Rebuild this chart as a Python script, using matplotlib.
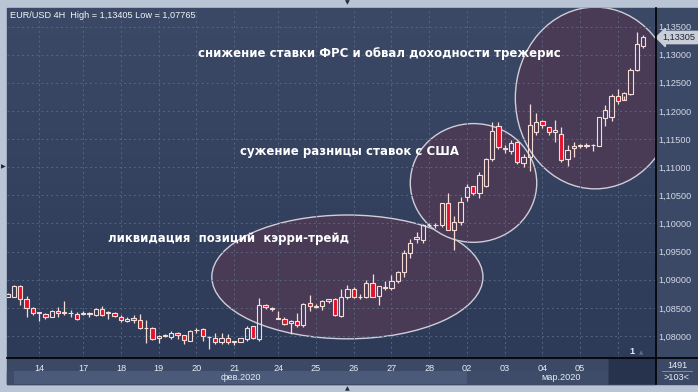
import numpy as np
import matplotlib.pyplot as plt
from matplotlib.patches import Rectangle, Ellipse
from matplotlib.lines import Line2D
from matplotlib.colors import LinearSegmentedColormap

W, H = 698, 392

# EUR/USD 4H свечи
opens = [1.0870, 1.0870, 1.0889, 1.0865, 1.0849, 1.0841, 1.0839, 1.0834, 1.0844, 1.0841,
         1.0840, 1.0839, 1.0839, 1.0840, 1.0838, 1.0848, 1.0841, 1.0840, 1.0833, 1.0827,
         1.0832, 1.0828, 1.0815, 1.0815, 1.0796, 1.0800, 1.0798, 1.0806, 1.0801, 1.0792,
         1.0810, 1.0812, 1.0799, 1.0797, 1.0789, 1.0797, 1.0791, 1.0790, 1.0794, 1.0817,
         1.0794, 1.0855, 1.0849, 1.0831, 1.0831, 1.0823, 1.0826, 1.0820, 1.0858, 1.0852,
         1.0853, 1.0862, 1.0865, 1.0836, 1.0869, 1.0883, 1.0870, 1.0869, 1.0894, 1.0871,
         1.0887, 1.0885, 1.0897, 1.0913, 1.0948, 1.0972, 1.0970, 1.0997, 1.0998, 1.0997,
         1.1037, 1.0989, 1.1002, 1.1047, 1.1066, 1.1054, 1.1067, 1.1114, 1.1173, 1.1135,
         1.1129, 1.1145, 1.1107, 1.1118, 1.1163, 1.1182, 1.1171, 1.1162, 1.1159, 1.1114,
         1.1134, 1.1138, 1.1138, 1.1140, 1.1138, 1.1188, 1.1189, 1.1227, 1.1220, 1.1230,
         1.1272, 1.1316]
highs = [1.0877, 1.0890, 1.0891, 1.0871, 1.0851, 1.0843, 1.0840, 1.0846, 1.0851, 1.0862,
         1.0847, 1.0842, 1.0844, 1.0842, 1.0849, 1.0853, 1.0844, 1.0842, 1.0837, 1.0834,
         1.0837, 1.0839, 1.0828, 1.0816, 1.0801, 1.0803, 1.0809, 1.0808, 1.0801, 1.0810,
         1.0814, 1.0814, 1.0800, 1.0806, 1.0806, 1.0804, 1.0792, 1.0797, 1.0817, 1.0818,
         1.0867, 1.0857, 1.0851, 1.0845, 1.0833, 1.0828, 1.0841, 1.0859, 1.0873, 1.0856,
         1.0864, 1.0866, 1.0868, 1.0883, 1.0891, 1.0887, 1.0875, 1.0899, 1.0910, 1.0889,
         1.0897, 1.0908, 1.0915, 1.0952, 1.0972, 1.0985, 1.0999, 1.1001, 1.1001, 1.1037,
         1.1054, 1.1013, 1.1047, 1.1070, 1.1067, 1.1092, 1.1117, 1.1180, 1.1180, 1.1140,
         1.1149, 1.1147, 1.1124, 1.1212, 1.1196, 1.1184, 1.1172, 1.1184, 1.1172, 1.1139,
         1.1145, 1.1142, 1.1143, 1.1141, 1.1190, 1.1210, 1.1230, 1.1239, 1.1233, 1.1276,
         1.13405, 1.1335]
lows = [1.0869, 1.0869, 1.0855, 1.0834, 1.0838, 1.0827, 1.0831, 1.0833, 1.0833, 1.0838,
        1.0833, 1.0828, 1.0838, 1.0834, 1.0836, 1.0836, 1.0831, 1.0833, 1.0825, 1.0824,
        1.0823, 1.0813, 1.0787, 1.0793, 1.0788, 1.0798, 1.0795, 1.0794, 1.0786, 1.0791,
        1.0806, 1.0792, 1.07765, 1.0786, 1.0785, 1.0786, 1.0784, 1.0789, 1.0791, 1.0795,
        1.0792, 1.0848, 1.0845, 1.0830, 1.0819, 1.0804, 1.0816, 1.0816, 1.0844, 1.0849,
        1.0847, 1.0858, 1.0836, 1.0833, 1.0866, 1.0868, 1.0865, 1.0868, 1.0869, 1.0855,
        1.0882, 1.0882, 1.0895, 1.0905, 1.0938, 1.0966, 1.0966, 1.0993, 1.0992, 1.0993,
        1.0989, 1.0953, 1.0998, 1.1040, 1.1050, 1.1045, 1.1064, 1.1111, 1.1132, 1.1126,
        1.1124, 1.1105, 1.1100, 1.1094, 1.1158, 1.1170, 1.1157, 1.1145, 1.1110, 1.1102,
        1.1119, 1.1135, 1.1135, 1.1129, 1.1138, 1.1174, 1.1182, 1.1213, 1.1227, 1.1228,
        1.1271, 1.1312]
closes = [1.0875, 1.0888, 1.0865, 1.0849, 1.0841, 1.0842, 1.0833, 1.0844, 1.0841, 1.0843,
          1.0841, 1.0831, 1.0841, 1.0839, 1.0848, 1.0837, 1.0842, 1.0836, 1.0828, 1.0831,
          1.0828, 1.0815, 1.0814, 1.0795, 1.0800, 1.0801, 1.0806, 1.0802, 1.0793, 1.0809,
          1.0811, 1.0800, 1.0798, 1.0789, 1.0797, 1.0790, 1.0790, 1.0796, 1.0815, 1.0796,
          1.0855, 1.0851, 1.0848, 1.0832, 1.0821, 1.0827, 1.0820, 1.0857, 1.0853, 1.0853,
          1.0862, 1.0865, 1.0837, 1.0869, 1.0883, 1.0870, 1.0869, 1.0894, 1.0870, 1.0889,
          1.0886, 1.0898, 1.0914, 1.0948, 1.0966, 1.0976, 1.0998, 1.0998, 1.0997, 1.1036,
          1.0989, 1.1002, 1.1038, 1.1064, 1.1054, 1.1086, 1.1114, 1.1165, 1.1136, 1.1132,
          1.1143, 1.1110, 1.1118, 1.1175, 1.1181, 1.1175, 1.1162, 1.1166, 1.1113, 1.1130,
          1.1138, 1.1139, 1.1140, 1.1139, 1.1189, 1.1202, 1.1227, 1.1218, 1.1231, 1.1273,
          1.1319, 1.13305]

day_pos = [5, 12, 18, 24, 30, 36, 43, 49, 55, 61, 67, 73, 79, 85, 91, 97]
day_labels = ['14', '17', '18', '19', '20', '21', '24', '25', '26', '27', '28',
              '02', '03', '04', '05', '06']
month_labels = ['фев.2020', 'мар.2020']
month_start = [1, 73]
price_ticks = [1.080, 1.085, 1.090, 1.095, 1.100, 1.105, 1.110, 1.115, 1.120, 1.125, 1.130, 1.135]
last_price = 1.13305
title = 'EUR/USD 4H  High = 1,13405 Low = 1,07765'
notes = ['снижение ставки ФРС и обвал доходности трежерис',
         'сужение разницы ставок с США',
         'ликвидация  позиций  кэрри-трейд']

UP_EDGE = '#f6dcd4'
DOWN_FACE = '#e5102b'
UI_FONT = 'Liberation Sans'


def fx(x):
    return x / W


def fy(y):
    return 1 - y / H


fig = plt.figure(figsize=(W / 100, H / 100), dpi=100)
fig.patch.set_facecolor('#b9c4d4')

# тёмная панель терминала
fig.add_artist(Rectangle((fx(7.5), fy(384)), (698 - 7.5) / W, (384 - 7.5) / H,
                         transform=fig.transFigure, color='#3b4966', zorder=0))
# полоса месяцев
fig.add_artist(Rectangle((fx(7.5), fy(383.5)), (655 - 7.5) / W, 13 / H,
                         transform=fig.transFigure, color='#3e4c6a', zorder=0))

ax = fig.add_axes([fx(7.5), fy(357.5), (655 - 7.5) / W, (357.5 - 7.5) / H])
grad = LinearSegmentedColormap.from_list('bg', ['#3b4966', '#2d3b58'])
ax.imshow(np.linspace(0, 1, 256).reshape(-1, 1), cmap=grad, aspect='auto',
          extent=[0, 1, 0, 1], transform=ax.transAxes, zorder=0)

# эллипсы-выделения
for cx, cy, ew, eh in [(54.0, 1.0905, 43.1, 0.0220),
                       (74.05, 1.1072, 20.1, 0.0211),
                       (93.4, 1.1223, 25.4, 0.0323)]:
    ax.add_patch(Ellipse((cx, cy), ew, eh, facecolor='#493b56', edgecolor='#cfcdd8',
                         linewidth=1.0, zorder=0.3))

# свечи
bw = 0.34
for i, (o, h, l, c) in enumerate(zip(opens, highs, lows, closes)):
    top, bot = max(o, c), min(o, c)
    ax.plot([i, i], [top, h], color=UP_EDGE, lw=0.9, zorder=2, solid_capstyle='butt')
    ax.plot([i, i], [l, bot], color=UP_EDGE, lw=0.9, zorder=2, solid_capstyle='butt')
    face = DOWN_FACE if c < o else 'none'
    ax.add_patch(Rectangle((i - bw, bot), 2 * bw, top - bot, facecolor=face,
                           edgecolor=UP_EDGE, linewidth=0.8, zorder=3))

ax.set_xlim(-0.03, 102.9)
ax.set_ylim(1.07618, 1.13838)
ax.set_xticks(day_pos)
ax.set_xticklabels(day_labels, fontfamily=UI_FONT, fontsize=6.6)
for lab in ax.get_xticklabels()[-1:]:
    lab.set_color('#5d6d8c')
ax.set_yticks(price_ticks)
ax.set_yticklabels([f'{p:.5f}'.replace('.', ',') for p in price_ticks],
                   fontfamily=UI_FONT, fontsize=6.6)
ax.yaxis.tick_right()
ax.tick_params(axis='x', length=0, pad=4.5, labelcolor='#e8ecf4')
ax.tick_params(axis='y', length=0, pad=2.5, labelcolor='#d3d9e5')
ax.grid(True, color='#56657f', linestyle=(0, (2, 3)), linewidth=0.7)
ax.set_axisbelow(True)
for s in ax.spines.values():
    s.set_visible(False)

# метка текущей цены
ax.text(1.012, last_price, f'{last_price:.5f}'.replace('.', ','), transform=ax.get_yaxis_transform(),
        fontfamily=UI_FONT, fontsize=6.6, color='#1c2436', va='center', ha='left',
        clip_on=False, zorder=5,
        bbox=dict(boxstyle='larrow,pad=0.18', facecolor='#c9ced8', edgecolor='#c9ced8'))

# полоса месяцев под датами
axm = fig.add_axes([fx(7.5), fy(383.5), (655 - 7.5) / W, 13 / H], sharex=ax)
axm.set_facecolor('none')
axm.set_ylim(0, 1)
axm.axvspan(month_start[0], month_start[1], color='#4b5a78', lw=0)
ends = month_start[1:] + [102.9]
for lab, a, b in zip(month_labels, month_start, ends):
    axm.text((a + b) / 2, 0.5, lab, ha='center', va='center', fontfamily=UI_FONT,
             fontsize=6.6, color='#e8ecf4')
axm.axis('off')

# рамка текущего дня
fig.add_artist(Rectangle((fx(608), fy(383.5)), 47 / W, 25.5 / H, transform=fig.transFigure,
                         facecolor='#27324c', edgecolor='#33405c', lw=0.6, zorder=1))

# чёрные разделители
fig.add_artist(Line2D([fx(7.5), 1], [fy(357.5), fy(357.5)], color='black', lw=1.2, zorder=6))
fig.add_artist(Line2D([fx(655.5), fx(655.5)], [fy(7.5), fy(384)], color='black', lw=1.2, zorder=6))

# заголовок и служебные надписи
fig.text(fx(10), fy(15), title, fontfamily=UI_FONT, fontsize=6.6, color='#f2f4f8',
         va='center', ha='left')
fig.text(fx(632), fy(352), '1', fontfamily=UI_FONT, fontsize=6.6, color='#e8ecf4',
         va='center', ha='center', fontweight='bold')
fig.text(fx(641), fy(352.5), '▲', fontsize=4, color='#5d6d8c', va='center', ha='center')
fig.text(fx(677), fy(365), '1491', fontfamily=UI_FONT, fontsize=6.6, color='#e8ecf4',
         va='center', ha='center')
fig.add_artist(Line2D([fx(662), fx(692)], [fy(371), fy(371)], color='#8a96ad', lw=0.6))
fig.text(fx(677), fy(377.5), '>103<', fontfamily=UI_FONT, fontsize=6.6, color='#e8ecf4',
         va='center', ha='center')
for x, y, m in [(347, 3, '▼'), (347, 389, '▲'), (3.5, 167, '▶')]:
    fig.text(fx(x), fy(y), m, fontsize=4.5, color='#222a3a', va='center', ha='center')

# подписи к эллипсам
for (x, y), t in zip([(379.5, 57), (349.5, 155), (228, 242)], notes):
    fig.text(fx(x), fy(y), t, fontsize=8.5, fontweight='bold', color='#ffffff',
             ha='center', va='baseline', zorder=7)

fig.savefig('out.png', dpi=100, facecolor=fig.get_facecolor())
